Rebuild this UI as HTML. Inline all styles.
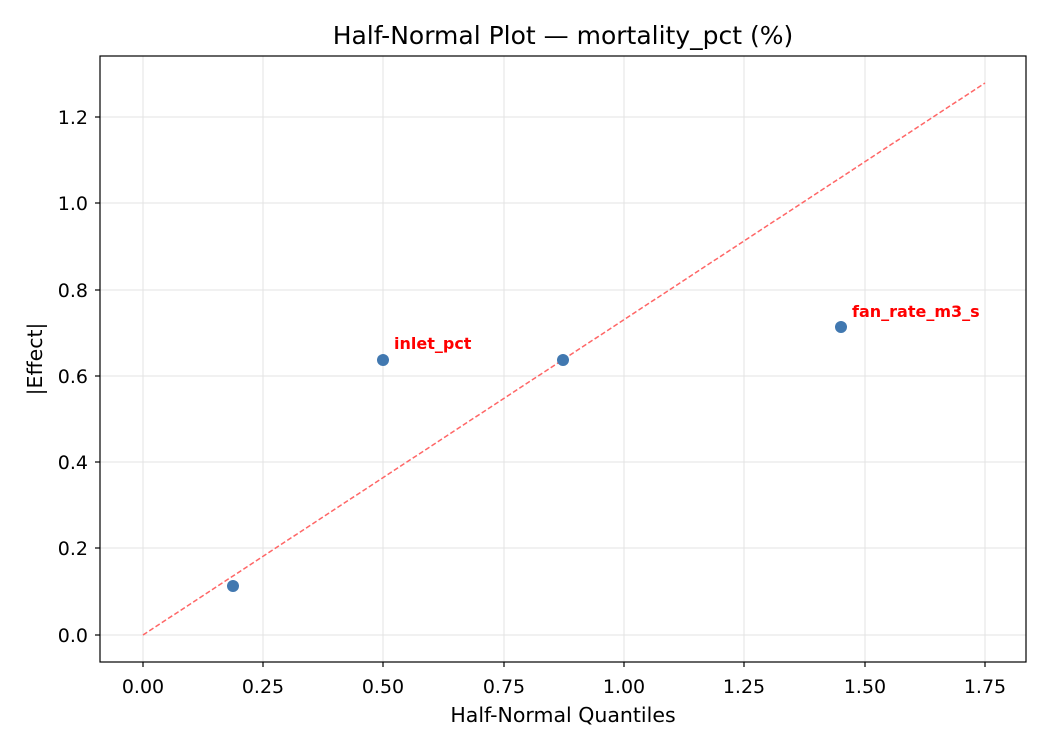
<!DOCTYPE html>
<html><head><meta charset="utf-8"><style>
body{margin:0;background:#fff}
svg text{font-family:"DejaVu Sans","Liberation Sans",sans-serif}
</style></head><body>
<svg width="1050" height="750" xmlns="http://www.w3.org/2000/svg">
<rect width="1050" height="750" fill="#fff"/>
<g stroke="#e3e3e3" stroke-width="1">
<line x1="143" y1="56" x2="143" y2="662"/><line x1="263" y1="56" x2="263" y2="662"/>
<line x1="383" y1="56" x2="383" y2="662"/><line x1="504" y1="56" x2="504" y2="662"/>
<line x1="624" y1="56" x2="624" y2="662"/><line x1="744" y1="56" x2="744" y2="662"/>
<line x1="865" y1="56" x2="865" y2="662"/><line x1="985" y1="56" x2="985" y2="662"/>
<line x1="100" y1="635" x2="1026" y2="635"/><line x1="100" y1="548" x2="1026" y2="548"/>
<line x1="100" y1="462" x2="1026" y2="462"/><line x1="100" y1="376" x2="1026" y2="376"/>
<line x1="100" y1="290" x2="1026" y2="290"/><line x1="100" y1="203" x2="1026" y2="203"/>
<line x1="100" y1="117" x2="1026" y2="117"/>
</g>
<line x1="143" y1="635" x2="985" y2="83" stroke="#ff6666" stroke-width="1.5" stroke-dasharray="5,2.5"/>
<g fill="#4178b0">
<circle cx="233" cy="586" r="6"/><circle cx="383" cy="360" r="6"/>
<circle cx="563" cy="360" r="6"/><circle cx="841" cy="327" r="6"/>
</g>
<text x="394" y="349" font-size="16" font-weight="bold" fill="#ff0000">inlet_pct</text>
<text x="852" y="317" font-size="16" font-weight="bold" fill="#ff0000">fan_rate_m3_s</text>
<rect x="100" y="56" width="926" height="606" fill="none" stroke="#000" stroke-width="1.2"/>
<g stroke="#000" stroke-width="1.2">
<line x1="143" y1="662" x2="143" y2="667"/><line x1="263" y1="662" x2="263" y2="667"/>
<line x1="383" y1="662" x2="383" y2="667"/><line x1="504" y1="662" x2="504" y2="667"/>
<line x1="624" y1="662" x2="624" y2="667"/><line x1="744" y1="662" x2="744" y2="667"/>
<line x1="865" y1="662" x2="865" y2="667"/><line x1="985" y1="662" x2="985" y2="667"/>
<line x1="95" y1="635" x2="100" y2="635"/><line x1="95" y1="548" x2="100" y2="548"/>
<line x1="95" y1="462" x2="100" y2="462"/><line x1="95" y1="376" x2="100" y2="376"/>
<line x1="95" y1="290" x2="100" y2="290"/><line x1="95" y1="203" x2="100" y2="203"/>
<line x1="95" y1="117" x2="100" y2="117"/>
</g>
<g font-size="19" text-anchor="middle" fill="#000">
<text x="143" y="693">0.00</text><text x="263" y="693">0.25</text><text x="383" y="693">0.50</text>
<text x="504" y="693">0.75</text><text x="624" y="693">1.00</text><text x="744" y="693">1.25</text>
<text x="865" y="693">1.50</text><text x="985" y="693">1.75</text>
</g>
<g font-size="19" text-anchor="end" fill="#000">
<text x="88" y="642">0.0</text><text x="88" y="555">0.2</text><text x="88" y="469">0.4</text>
<text x="88" y="383">0.6</text><text x="88" y="297">0.8</text><text x="88" y="210">1.0</text>
<text x="88" y="124">1.2</text>
</g>
<text x="563" y="722" font-size="20.5" text-anchor="middle">Half-Normal Quantiles</text>
<text transform="translate(42,359) rotate(-90)" font-size="20.5" text-anchor="middle">|Effect|</text>
<text x="563" y="44" font-size="25" text-anchor="middle">Half-Normal Plot — mortality_pct (%)</text>
</svg>
</body></html>
